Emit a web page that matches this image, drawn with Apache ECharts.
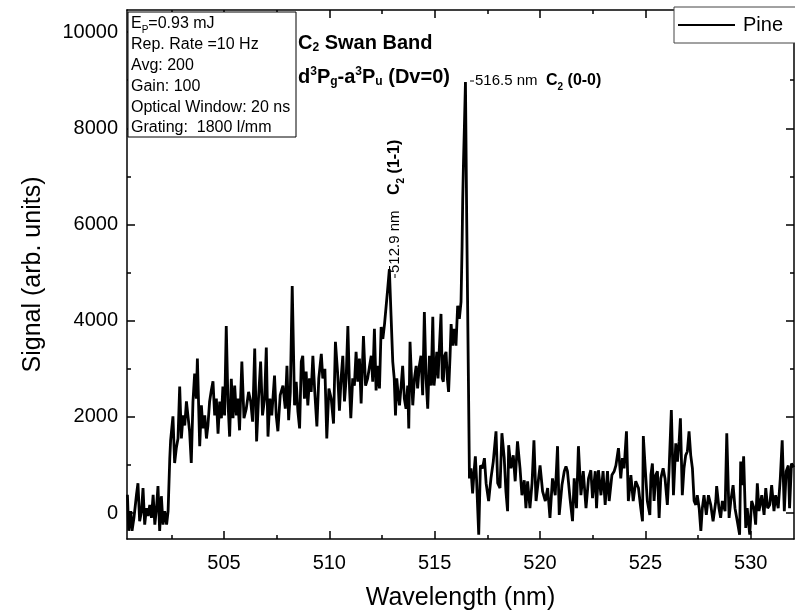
<!DOCTYPE html>
<html>
<head>
<meta charset="utf-8">
<title>C2 Swan Band</title>
<script src="https://cdn.jsdelivr.net/npm/echarts@6.0.0/dist/echarts.min.js"></script>
<style>
    html, body { margin: 0; padding: 0; background: #fff; }
    #chart { width: 795px; height: 616px; }
</style>
</head>
<body>
<div id="chart"></div>
<script>
// spectrum: wavelength (nm) / signal (arb. units)
const wavelength = [
    500.42, 500.48, 500.58, 500.64, 500.73, 500.85, 500.92, 501.00, 501.09, 501.16,
    501.24, 501.32, 501.40, 501.48, 501.56, 501.64, 501.72, 501.80, 501.87, 501.95,
    502.03, 502.11, 502.19, 502.28, 502.35, 502.43, 502.47, 502.58, 502.66, 502.74,
    502.82, 502.90, 502.98, 503.06, 503.14, 503.22, 503.29, 503.37, 503.45, 503.53,
    503.61, 503.69, 503.74, 503.85, 503.93, 504.00, 504.09, 504.17, 504.24, 504.32,
    504.40, 504.48, 504.56, 504.64, 504.72, 504.80, 504.88, 504.95, 505.03, 505.11,
    505.19, 505.27, 505.35, 505.43, 505.51, 505.59, 505.66, 505.74, 505.85, 505.95,
    506.06, 506.17, 506.27, 506.36, 506.46, 506.55, 506.64, 506.74, 506.83, 506.93,
    507.01, 507.09, 507.18, 507.27, 507.40, 507.48, 507.56, 507.67, 507.80, 507.91,
    507.99, 508.07, 508.15, 508.24, 508.35, 508.43, 508.51, 508.59, 508.67, 508.74,
    508.82, 508.90, 508.98, 509.06, 509.14, 509.22, 509.31, 509.41, 509.50, 509.62,
    509.69, 509.79, 509.88, 509.98, 510.09, 510.20, 510.29, 510.39, 510.48, 510.56,
    510.64, 510.72, 510.80, 510.88, 510.96, 511.02, 511.11, 511.19, 511.27, 511.35,
    511.43, 511.51, 511.62, 511.72, 511.82, 511.91, 511.99, 512.06, 512.14, 512.22,
    512.30, 512.38, 512.46, 512.54, 512.62, 512.70, 512.77, 512.85, 512.93, 513.01,
    513.08, 513.14, 513.20, 513.27, 513.33, 513.41, 513.48, 513.56, 513.64, 513.72,
    513.77, 513.83, 513.90, 513.96, 514.04, 514.12, 514.19, 514.27, 514.35, 514.43,
    514.51, 514.59, 514.67, 514.75, 514.83, 514.91, 514.97, 515.03, 515.10, 515.16,
    515.22, 515.30, 515.36, 515.41, 515.47, 515.54, 515.60, 515.66, 515.73, 515.78,
    515.85, 515.93, 516.01, 516.09, 516.17, 516.25, 516.30, 516.33, 516.37, 516.41,
    516.46, 516.52, 516.60, 516.65, 516.72, 516.80, 516.87, 516.93, 516.99, 517.09,
    517.17, 517.27, 517.36, 517.44, 517.56, 517.67, 517.78, 517.91, 517.99, 518.10,
    518.19, 518.30, 518.38, 518.46, 518.51, 518.62, 518.73, 518.82, 518.93, 519.05,
    519.14, 519.25, 519.33, 519.41, 519.52, 519.62, 519.71, 519.81, 519.93, 520.00,
    520.12, 520.25, 520.36, 520.47, 520.59, 520.72, 520.83, 520.91, 521.04, 521.15,
    521.23, 521.30, 521.42, 521.54, 521.62, 521.73, 521.82, 521.94, 522.05, 522.18,
    522.30, 522.41, 522.49, 522.62, 522.68, 522.77, 522.89, 522.99, 523.09, 523.20,
    523.28, 523.41, 523.52, 523.60, 523.72, 523.83, 523.91, 523.99, 524.10, 524.19,
    524.31, 524.42, 524.54, 524.67, 524.78, 524.86, 524.90, 524.99, 525.09, 525.21,
    525.26, 525.33, 525.41, 525.49, 525.57, 525.65, 525.73, 525.84, 525.93, 526.04,
    526.12, 526.23, 526.33, 526.44, 526.52, 526.60, 526.66, 526.75, 526.83, 526.91,
    526.99, 527.07, 527.15, 527.23, 527.31, 527.39, 527.46, 527.55, 527.63, 527.70,
    527.78, 527.89, 527.99, 528.10, 528.21, 528.34, 528.38, 528.49, 528.57, 528.65,
    528.78, 528.86, 528.97, 529.05, 529.16, 529.25, 529.36, 529.47, 529.52, 529.60,
    529.66, 529.76, 529.83, 529.95, 530.04, 530.15, 530.23, 530.31, 530.39, 530.52,
    530.63, 530.71, 530.80, 530.90, 530.99, 531.10, 531.18, 531.30, 531.40, 531.49,
    531.59, 531.68, 531.78, 531.84, 531.93, 532.04
];
const signal = [
    380, -370, 40, -370, -100, 380, 620, -170, 40, 520,
    -240, 100, -60, 170, -100, 380, -240, 100, 560, -370,
    350, -240, 40, -240, 40, 1140, 1510, 2010, 1040, 1350,
    1550, 2630, 1550, 2030, 1820, 2320, 2030, 1700, 1040, 2320,
    2900, 2380, 3210, 1390, 2240, 1760, 2030, 1550, 1820, 2320,
    2550, 2740, 2030, 2380, 1650, 2320, 1970, 2630, 2030, 3890,
    2320, 1590, 2790, 1970, 2650, 2030, 2380, 1720, 3150, 1970,
    2170, 2520, 2320, 1900, 3420, 1490, 2380, 3150, 2030, 2380,
    3440, 1590, 2380, 2030, 2860, 2030, 1700, 2450, 2650, 2170,
    3060, 1930, 2520, 4720, 2240, 2730, 2110, 1760, 3150, 3270,
    2380, 2940, 2240, 2800, 2520, 3270, 2520, 1800, 2800, 3310,
    2800, 3000, 1550, 2590, 2380, 1860, 3560, 2940, 2130, 2800,
    3270, 2320, 2800, 3890, 2590, 1970, 2800, 2650, 3350, 2730,
    3210, 2280, 3680, 2650, 2800, 3060, 3270, 2730, 3830, 2550,
    3060, 2590, 3870, 3620, 3930, 3970, 4660, 5070, 4100, 3150,
    2800, 2030, 2800, 2450, 2240, 2650, 3060, 2380, 2170, 2650,
    1760, 3560, 2800, 2240, 2800, 3060, 2590, 3060, 3270, 2450,
    4180, 2800, 2170, 3270, 2650, 4080, 2650, 2940, 3350, 2800,
    3420, 4140, 2800, 2730, 3270, 3350, 2800, 2520, 3270, 3930,
    3480, 3830, 3480, 4310, 4040, 4390, 5550, 6520, 7350, 8030,
    8960, 6100, 2800, 720, 930, 410, 870, 1180, 660, -450,
    990, 930, 1140, 620, 250, 720, 1070, 1700, 620, 520,
    1660, 1140, 450, 40, 1410, 930, 1200, 660, 1490, 930,
    370, 680, 100, 660, 100, 620, 1510, 250, 720, 990,
    450, 250, 520, -100, 720, 370, 1390, -40, 580, 870,
    970, 870, 310, -170, 720, 100, 1390, 370, 870, 100,
    720, 890, 310, 870, 100, 890, 370, 870, 170, 870,
    250, 790, 870, 990, 1350, 720, 1140, 930, 1700, 250,
    790, 250, 660, 520, 100, -170, 1600, 930, 250, -40,
    790, 1030, 250, 790, 870, -100, 720, 930, 720, 170,
    870, 2140, 370, 1450, 1070, 1490, 1970, 370, 930, 1200,
    1280, 1700, 1200, 930, 250, 170, 370, 100, -370, 100,
    370, -40, 370, 170, -170, 250, 560, 100, -100, 250,
    40, 1660, -100, 250, 580, 100, -170, -450, 1070, 580,
    1180, -310, 100, -450, 250, 100, -240, 620, 40, 370,
    -40, 520, 100, 170, 580, 40, 370, 100, 720, 1510,
    40, 870, 990, 100, 1030, 950
];

const xMajorTicks = [505, 510, 515, 520, 525, 530];
const xMinorTicks = [502.5, 507.5, 512.5, 517.5, 522.5, 527.5];
const yMajorTicks = [0, 2000, 4000, 6000, 8000, 10000];
const yMinorTicks = [1000, 3000, 5000, 7000, 9000];

const FONT = "'Liberation Sans', Arial, sans-serif";
const X_MIN = 500.4, X_MAX = 532.05;
const Y_MIN = -540, Y_MAX = 10460;

// one axis of the box frame; ticks point inward
function frameAxis(position, min, max, ticks, len, showLine, showLabel) {
    return {
        type: 'value',
        position: position,
        min: min,
        max: max,
        axisLine: {show: showLine, onZero: false, lineStyle: {color: '#000', width: 1.5}},
        axisTick: {show: true, inside: true, length: len, customValues: ticks, lineStyle: {color: '#000', width: 1.5}},
        axisLabel: {
            show: showLabel,
            customValues: ticks,
            color: '#000',
            fontSize: 20,
            fontFamily: FONT,
            margin: 10,
            formatter: v => String(v)
        },
        splitLine: {show: false}
    };
}

const xAxes = [
    frameAxis('bottom', X_MIN, X_MAX, xMajorTicks, 8, true, true),
    frameAxis('bottom', X_MIN, X_MAX, xMinorTicks, 4, false, false),
    frameAxis('top', X_MIN, X_MAX, xMajorTicks, 8, true, false),
    frameAxis('top', X_MIN, X_MAX, xMinorTicks, 4, false, false)
];
Object.assign(xAxes[0], {
    name: 'Wavelength (nm)',
    nameLocation: 'middle',
    nameGap: 47,
    nameTextStyle: {color: '#000', fontSize: 25, fontFamily: FONT}
});
xAxes[0].axisLabel.margin = 14;

const yAxes = [
    frameAxis('left', Y_MIN, Y_MAX, yMajorTicks, 8, true, true),
    frameAxis('left', Y_MIN, Y_MAX, yMinorTicks, 4, false, false),
    frameAxis('right', Y_MIN, Y_MAX, yMajorTicks, 8, true, false),
    frameAxis('right', Y_MIN, Y_MAX, yMinorTicks, 4, false, false)
];
Object.assign(yAxes[0], {
    name: 'Signal (arb. units)',
    nameLocation: 'middle',
    nameGap: 81,
    nameTextStyle: {color: '#000', fontSize: 25, fontFamily: FONT}
});
yAxes[0].axisLabel.margin = 9;

// sub/superscript styles for the annotation texts
function scripts(size) {
    return {
        sub: {fontSize: size, fontFamily: FONT, verticalAlign: 'bottom', lineHeight: 12},
        sup: {fontSize: size, fontFamily: FONT, verticalAlign: 'top', lineHeight: 12}
    };
}

function label(text, x, y, size, bold, extra) {
    const rich = scripts(Math.round(size * 0.62));
    rich.sub.fontWeight = rich.sup.fontWeight = bold ? 'bold' : 'normal';
    return Object.assign({
        type: 'text',
        x: x,
        y: y,
        z: 100,
        style: {
            text: text,
            fill: '#000',
            fontSize: size,
            fontFamily: FONT,
            fontWeight: bold ? 'bold' : 'normal',
            lineHeight: 22,
            align: 'left',
            textAlign: 'left',
            verticalAlign: 'middle',
            textVerticalAlign: 'middle',
            rich: rich
        }
    }, extra || {});
}

const infoLines = [
    'E{sub|P}=0.93 mJ',
    'Rep. Rate =10 Hz',
    'Avg: 200',
    'Gain: 100',
    'Optical Window: 20 ns',
    'Grating:  1800 l/mm'
];

const graphics = [
    {
        type: 'rect',
        z: 99,
        shape: {x: 128, y: 12, width: 168, height: 125},
        style: {fill: '#fff', stroke: '#000', lineWidth: 1}
    }
];
infoLines.forEach((t, i) => graphics.push(label(t, 131, 24 + i * 20.8, 16, false)));
graphics.push(label('C{sub|2} Swan Band', 298, 43, 20, true));
graphics.push(label('d{sup|3}P{sub|g}-a{sup|3}P{sub|u} (Dv=0)', 298, 77, 20, true));
graphics.push({type: 'line', z: 100, shape: {x1: 470, y1: 81, x2: 474, y2: 81}, style: {stroke: '#000', lineWidth: 1}});
graphics.push(label('516.5 nm', 475, 81, 15, false));
graphics.push(label('C{sub|2} (0-0)', 546, 81, 16, true));
graphics.push({type: 'line', z: 100, shape: {x1: 395, y1: 278, x2: 395, y2: 274}, style: {stroke: '#000', lineWidth: 1}});
graphics.push(label('512.9 nm', 395, 273, 15, false, {rotation: Math.PI / 2}));
graphics.push(label('C{sub|2} (1-1)', 395, 195, 16, true, {rotation: Math.PI / 2}));

const chart = echarts.init(document.getElementById('chart'));
chart.setOption({
    animation: false,
    backgroundColor: '#fff',
    textStyle: {fontFamily: FONT},
    grid: {left: 127, right: 1, top: 10, bottom: 75, containLabel: false},
    legend: {
        data: ['Pine'],
        left: 674,
        top: 7,
        icon: 'rect',
        itemWidth: 57,
        itemHeight: 2,
        itemGap: 10,
        padding: [8, 30, 8, 4],
        borderColor: '#444',
        borderWidth: 1,
        backgroundColor: '#fff',
        textStyle: {color: '#000', fontSize: 20, fontFamily: FONT, lineHeight: 20, padding: [0, 0, 0, 3]}
    },
    xAxis: xAxes,
    yAxis: yAxes,
    graphic: {elements: graphics},
    series: [
        {
            name: 'Pine',
            type: 'line',
            xAxisIndex: 0,
            yAxisIndex: 0,
            data: wavelength.map((w, i) => [w, signal[i]]),
            symbol: 'none',
            lineStyle: {color: '#000', width: 2.8},
            itemStyle: {color: '#000'}
        }
    ]
});
</script>
</body>
</html>
